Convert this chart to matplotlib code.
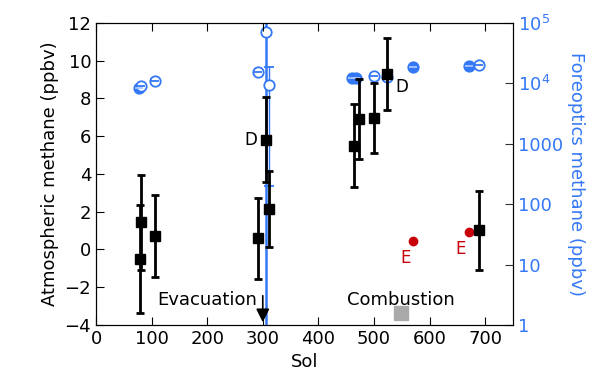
import numpy as np
import matplotlib
matplotlib.use('Agg')
import matplotlib.pyplot as plt

plt.rcParams['font.family'] = 'DejaVu Sans'
plt.rcParams['mathtext.fontset'] = 'dejavusans'

blue = '#3478f6'
red = '#c8000a'

# atmospheric methane (left axis)
sol_atm = [79, 81, 107, 292, 305, 311, 465, 473, 501, 523, 689]
ch4_atm = [-0.5, 1.44, 0.71, 0.59, 5.8, 2.15, 5.5, 6.91, 6.95, 9.3, 1.02]
err_atm = [2.85, 2.5, 2.15, 2.15, 2.25, 2.0, 2.2, 2.1, 1.85, 1.9, 2.1]

# enrichment runs
sol_e = [570, 671]
ch4_e = [0.47, 0.94]

# foreoptics methane (right axis, log)
fo_sol = [78, 81, 107, 292, 305, 312, 461, 468, 501, 523, 570, 671, 689]
fo_ch4 = [8400, 8900, 11100, 15600, 71800, 9400, 12200, 12200, 13400, 12900, 18500, 19400, 19900]
fo_err = [400, 400, 500, 700, 80000, 9200, 500, 500, 600, 600, 800, 900, 900]
fo_fill = [True, False, False, False, False, False, True, True, False, False, True, True, False]

fig = plt.figure(figsize=(6.02, 3.8), dpi=100)
ax = fig.add_axes([0.1595, 0.1447, 0.6925, 0.795])
ax2 = ax.twinx()

ax.set_zorder(2)
ax.patch.set_visible(False)

for s, v, e, f in zip(fo_sol, fo_ch4, fo_err, fo_fill):
    lw = 1.8 if e > 50000 else 1.0
    ax2.errorbar(s, v, yerr=e, fmt='o', ms=7.5, mec=blue, mfc=blue if f else 'white',
                 mew=1.3, ecolor=blue, elinewidth=lw, capsize=3.5, capthick=1.2)
    if e < 1000:
        ax2.plot(s, v, '_', ms=6, mew=1.3, color='#a8c6ff' if f else blue, zorder=5)
ax2.set_yscale('log')
ax2.set_ylim(1, 1e5)
ax2.set_yticks([1, 10, 100, 1000, 1e4, 1e5])
ax2.set_yticklabels(['1', '10', '100', '1000', r'$10^4$', r'$10^5$'])
ax2.minorticks_off()
ax2.tick_params(axis='y', direction='in', colors='#333333', labelcolor=blue, labelsize=13, length=6)
ax2.set_ylabel('Foreoptics methane (ppbv)', color=blue, fontsize=13, rotation=270, labelpad=16)

ax.errorbar(sol_atm, ch4_atm, yerr=err_atm, fmt='s', ms=7, color='black',
            elinewidth=2, capsize=3, capthick=2)
ax.plot(sol_e, ch4_e, 'o', ms=6, color=red)

ax.set_xlim(0, 750)
ax.set_ylim(-4, 12)
ax.set_xticks(np.arange(0, 800, 100))
ax.set_yticks(np.arange(-4, 13, 2))
ax.tick_params(direction='in', top=True, labelsize=13, length=6)
ax.set_xlabel('Sol', fontsize=13)
ax.set_ylabel('Atmospheric methane (ppbv)', fontsize=13)

ax.text(278, 5.8, 'D', fontsize=12, ha='center', va='center')
ax.text(550, 8.6, 'D', fontsize=12, ha='center', va='center')
ax.text(556, -0.47, 'E', fontsize=12, color=red, ha='center', va='center')
ax.text(655, 0.03, 'E', fontsize=12, color=red, ha='center', va='center')
ax.text(200, -2.68, 'Evacuation', fontsize=13, ha='center', va='center')
ax.text(548, -2.68, 'Combustion', fontsize=13, ha='center', va='center')
ax.plot(548, -3.38, 's', ms=10, color='#aaaaaa')
ax.annotate('', xy=(300, -4), xytext=(300, -2.3),
            arrowprops=dict(arrowstyle='-|>', color='black', lw=1.2, mutation_scale=20))

fig.savefig('out.png', dpi=100)
